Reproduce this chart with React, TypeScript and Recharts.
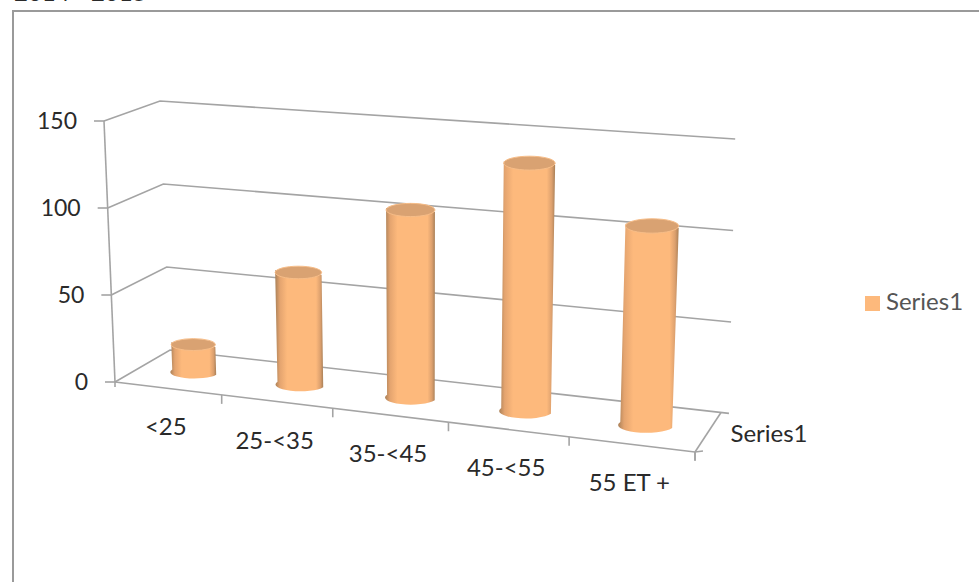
import React from "react";
import { Bar, BarChart, CartesianGrid, Legend, XAxis, YAxis } from "recharts";

// Age bands and head counts
const categories = ["<25", "25-<35", "35-<45", "45-<55", "55 ET +"];
const seriesValues = [16, 64, 105, 136, 107];
const valueTicks = [0, 50, 100, 150];
const seriesName = "Series1";

const FONT = "Lato, 'Open Sans', sans-serif";
const INK = "#2a2a2a";
const RULE = "#a4a4a4";

// Flat plot rectangle handed to Recharts; the scales work in this space.
const PLOT = { left: 115, right: 695, top: 121, bottom: 382 };
const PLOT_W = PLOT.right - PLOT.left;
const PLOT_H = PLOT.bottom - PLOT.top;

type Pt = [number, number];
const mix = (a: Pt, b: Pt, t: number): Pt => [a[0] + (b[0] - a[0]) * t, a[1] + (b[1] - a[1]) * t];

// Corners of the 3D box: floor and ceiling, front and back.
const FLOOR = { fl: [115, 382] as Pt, fr: [695, 452] as Pt, bl: [170, 350] as Pt, br: [721, 412.5] as Pt };
const CEIL = { fl: [104, 121] as Pt, fr: [710, 162] as Pt, bl: [160, 101] as Pt, br: [727, 138.5] as Pt };
const FORESHORTEN = 0.109;

// Map category position u, depth d and height z (each 0..1) onto the page.
function project(u: number, d: number, z: number): Pt {
  const w = u / (1 + FORESHORTEN * (1 - u));
  const plane = (q: typeof FLOOR) => mix(mix(q.fl, q.fr, w), mix(q.bl, q.br, w), d);
  return mix(plane(FLOOR), plane(CEIL), z);
}

const toU = (x: number) => (x - PLOT.left) / PLOT_W;
const toZ = (y: number) => (PLOT.bottom - y) / PLOT_H;
const seg = (a: Pt, b: Pt, c = RULE, sw = 1.6) => (
  <line x1={a[0]} y1={a[1]} x2={b[0]} y2={b[1]} stroke={c} strokeWidth={sw} />
);

// Wall lines: one run along the side wall and the back wall per value tick.
function WallLine(props: any) {
  const z = toZ(props.y1);
  const a = project(0, 0, z);
  const b = project(0, 1, z);
  const c = project(1.013, 1, z);
  return (
    <polyline
      key={props.key}
      points={`${a[0]},${a[1]} ${b[0]},${b[1]} ${c[0]},${c[1]}`}
      fill="none"
      stroke={RULE}
      strokeWidth={1.6}
    />
  );
}

// Front floor edge, right floor edge and the vertical value axis.
function BoxEdges() {
  const o = project(0, 0, 0);
  const e = project(1, 0, 0);
  return (
    <g>
      {seg(o, project(0, 0, 1))}
      {seg(o, e)}
      {seg(e, project(1, 1, 0))}
      {seg(o, [o[0], o[1] + 5])}
      {seg(e, [e[0], e[1] + 8])}
      {seg(e, [e[0] + 8, e[1] - 1])}
      <text x={769} y={442} textAnchor="middle" fontFamily={FONT} fontSize={24} fill={INK}>
        {seriesName}
      </text>
    </g>
  );
}

function ValueTick(props: any) {
  const z = toZ(props.y);
  const p = project(0, 0, z);
  return (
    <g>
      {seg(p, [p[0] - 10, p[1]])}
      <text x={p[0] - 27} y={p[1] + 8} textAnchor="end" fontFamily={FONT} fontSize={23} fill={INK}>
        {props.payload.value}
      </text>
    </g>
  );
}

function CategoryTick(props: any) {
  const band = 1 / categories.length;
  const u = toU(props.x);
  const p = project(u, 0, 0);
  const t = project(u + band / 2, 0, 0);
  return (
    <g>
      {seg(t, [t[0], t[1] + 9])}
      <text x={p[0] - 2} y={p[1] + 47} textAnchor="middle" fontFamily={FONT} fontSize={24} fill={INK}>
        {props.payload.value}
      </text>
    </g>
  );
}

// Upright cylinder standing at mid depth of the box.
function Cylinder(props: any) {
  const { x, y, width, height } = props;
  const uL = toU(x);
  const uR = toU(x + width);
  const zTop = toZ(y);
  const zBase = toZ(y + height);
  const bl = project(uL, 0.5, zBase);
  const br = project(uR, 0.5, zBase);
  const tl = project(uL, 0.5, zTop);
  const tr = project(uR, 0.5, zTop);
  const rxB = (br[0] - bl[0]) / 2;
  const rxT = (tr[0] - tl[0]) / 2;
  const ry = rxT * 0.27;
  const body = `M${bl[0]},${bl[1]} L${tl[0]},${tl[1]} L${tr[0]},${tr[1]} L${br[0]},${br[1]} A${rxB},${ry} 0 0 1 ${bl[0]},${bl[1]} Z`;
  return (
    <g>
      <path d={body} fill="url(#cylinderSide)" />
      <ellipse
        cx={(tl[0] + tr[0]) / 2}
        cy={(tl[1] + tr[1]) / 2}
        rx={rxT}
        ry={ry}
        fill="#d9a272"
        stroke="#f7bd88"
        strokeWidth={1}
      />
    </g>
  );
}

const rows = categories.map((name, i) => ({ name, value: seriesValues[i] }));

export default function App() {
  return (
    <div style={{ position: "absolute", left: 0, top: 0, width: 979, height: 582, overflow: "hidden", background: "#fff" }}>
      {/* Worksheet frame the chart sits in */}
      <div
        style={{
          position: "absolute",
          left: 12,
          top: 10,
          width: 975,
          height: 580,
          border: "2px solid #9a9a9a",
          boxSizing: "border-box",
        }}
      />
      <div style={{ position: "absolute", left: 14, top: -23, fontFamily: FONT, fontSize: 24, color: INK, whiteSpace: "nowrap" }}>
        2014 - 2015
      </div>
      <BarChart
        width={979}
        height={582}
        data={rows}
        margin={{ top: PLOT.top, right: 979 - PLOT.right, left: 15, bottom: 60 }}
        barCategoryGap="29%"
        style={{ position: "absolute", left: 0, top: 0 }}
      >
        <defs>
          <linearGradient id="cylinderSide" x1="0" y1="0" x2="1" y2="0">
            <stop offset="0" stopColor="#a98058" />
            <stop offset="0.1" stopColor="#e4a46f" />
            <stop offset="0.25" stopColor="#fdb97c" />
            <stop offset="0.85" stopColor="#fdb97c" />
            <stop offset="0.94" stopColor="#dca06e" />
            <stop offset="1" stopColor="#a98058" />
          </linearGradient>
        </defs>
        <CartesianGrid vertical={false} horizontal={WallLine as any} />
        <XAxis dataKey="name" height={140} axisLine={false} tickLine={false} tick={CategoryTick as any} interval={0} />
        <YAxis
          width={100}
          domain={[0, 150]}
          ticks={valueTicks}
          axisLine={false}
          tickLine={false}
          tick={ValueTick as any}
        />
        <BoxEdges />
        <Legend
          layout="vertical"
          align="center"
          verticalAlign="middle"
          iconType="square"
          iconSize={15}
          wrapperStyle={{ left: 865, top: 286, width: 114, fontFamily: FONT, fontSize: 24, color: "#555", whiteSpace: "nowrap" }}
          formatter={(v: string) => <span style={{ color: "#555", marginLeft: 2 }}>{v}</span>}
        />
        <Bar dataKey="value" name={seriesName} fill="#fdb97c" shape={Cylinder as any} isAnimationActive={false} />
      </BarChart>
    </div>
  );
}
